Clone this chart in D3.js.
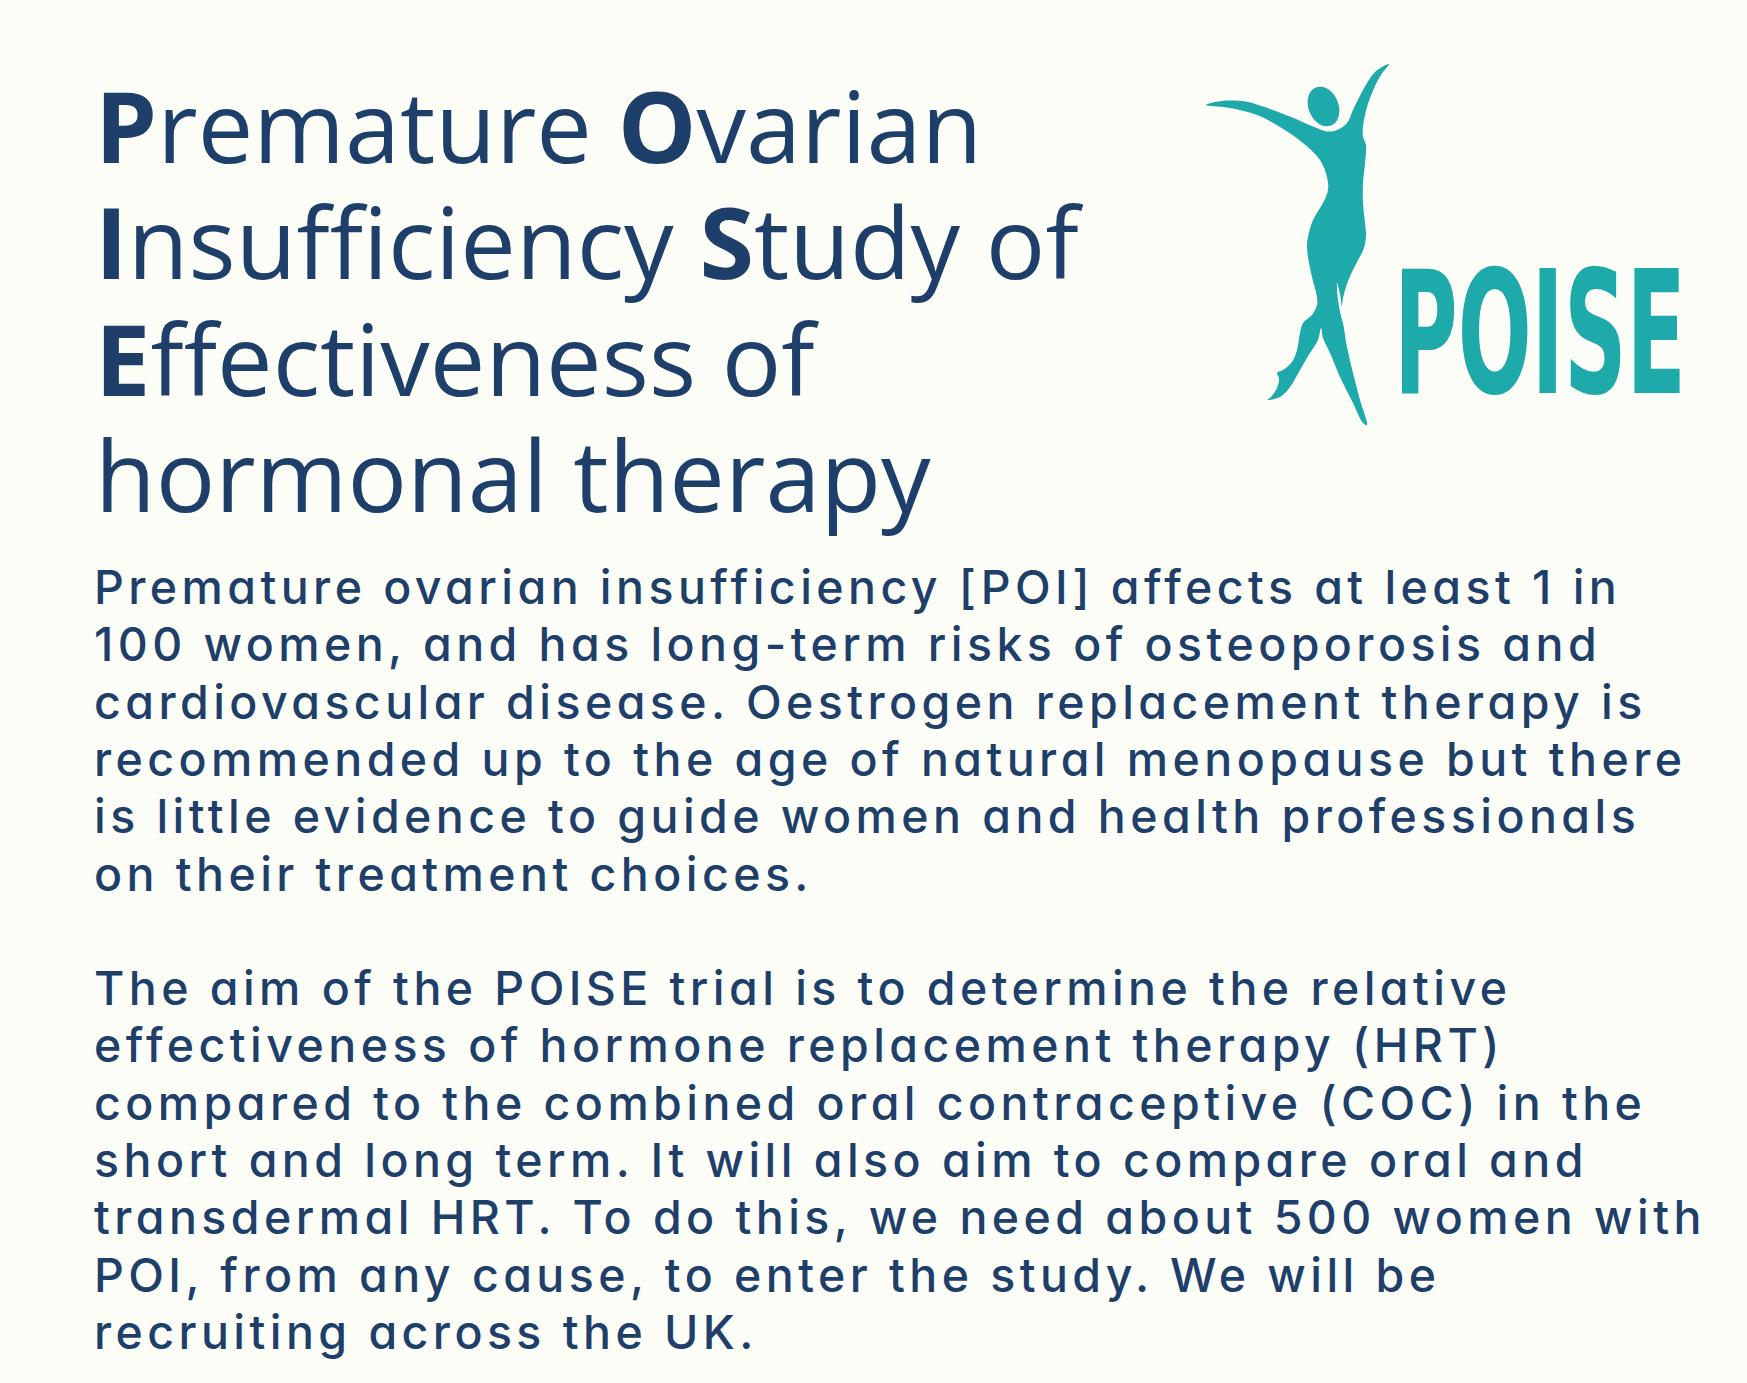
<!DOCTYPE html>
<html>
<head>
<meta charset="utf-8">
<script src="https://cdn.jsdelivr.net/npm/d3@7"></script>
<style>
  html, body { margin: 0; padding: 0; background: #fdfdf8; }
  svg { display: block; }
</style>
</head>
<body>
<script>
var W = 1747, H = 1383;

// title lines: each piece is [boldInitial, rest]
var titleLines = [
  [["P", "remature "], ["O", "varian"]],
  [["I", "nsufficiency "], ["S", "tudy of"]],
  [["E", "ffectiveness of"]],
  [["", "hormonal therapy"]]
];

var paraOne = [
  "Premature ovarian insufficiency [POI] affects at least 1 in",
  "100 women, and has long-term risks of osteoporosis and",
  "cardiovascular disease. Oestrogen replacement therapy is",
  "recommended up to the age of natural menopause but there",
  "is little evidence to guide women and health professionals",
  "on their treatment choices."
];

var paraTwo = [
  "The aim of the POISE trial is to determine the relative",
  "effectiveness of hormone replacement therapy (HRT)",
  "compared to the combined oral contraceptive (COC) in the",
  "short and long term. It will also aim to compare oral and",
  "transdermal HRT. To do this, we need about 500 women with",
  "POI, from any cause, to enter the study. We will be",
  "recruiting across the UK."
];

var logoWord = "POISE";

// dancer outline, in logo units (0..200 wide, 0..380 tall)
var dancer = [
  [6,45],[15,42],[30,40.5],[48,42],[63,46.5],[90,56.5],[113,66.5],[127,71.5],
  [137,70],[147,63],[153,50],[167,23],[175,12],[182,7],[189,4],
  [183,12],[177,22],[167,47],[163,67],[163,77],[166,85],[165,103],[163,123],
  [163,143],[165,163],[166,175],[164,188],[157,202],[148,221],[143,238],
  [142,246],[140,234],[137,223],[138,240],[142,260],
  [143,263],[147,287],[153,313],[160,340],[167,365],
  [163,363],[153,343],[140,317],[130,293],[123,278],[121,268],
  [118,280],[110,293],[100,310],[90,327],[80,337],[67,340],
  [70,338],[77,328],[79,318],[77,313],[83,310],[92,302],[97,290],[100,273],
  [103,263],[112,255],[117,245],[117,237],[112,217],[108,197],[107,185],
  [108,177],[113,160],[123,143],[128,130],[127,117],[120,100],[103,83],
  [80,67],[57,55],[30,48]
];

var navy = "#1f3f6b", teal = "#1ea9aa";

var svg = d3.select("body").append("svg")
    .attr("width", W)
    .attr("height", H);

svg.append("rect")
    .attr("width", W)
    .attr("height", H)
    .attr("fill", "#fdfdf8");

// title
var titleY = d3.scaleLinear().domain([0, 1]).range([163, 279.3]);

var title = svg.append("g")
    .attr("font-family", "'Open Sans', 'Noto Sans', sans-serif")
    .attr("font-size", 99)
    .attr("fill", navy);

title.selectAll("text")
    .data(titleLines)
    .enter()
    .append("text")
    .attr("x", 95)
    .attr("y", function(d, i) { return titleY(i); })
    .each(function(line) {
      var t = d3.select(this);
      line.forEach(function(p) {
        if (p[0]) t.append("tspan").attr("font-weight", 700).text(p[0]);
        t.append("tspan").attr("font-weight", 400).text(p[1]);
      });
    });

// body paragraphs
var bodyY = d3.scaleLinear().domain([0, 1]).range([604, 661.3]);
var bodyLines = paraOne.concat([""], paraTwo);

var body = svg.append("g")
    .attr("font-family", "Inter, Lato, sans-serif")
    .attr("font-size", 46.5)
    .attr("font-weight", 500)
    .style("font-feature-settings", "'cv11' 1")
    .attr("fill", navy);

var rows = body.selectAll("text")
    .data(bodyLines)
    .enter()
    .append("text")
    .attr("x", 94)
    .attr("y", function(d, i) { return bodyY(i); })
    .text(function(d) { return d; });

// spread letters so the widest line matches the original
var ref = rows.filter(function(d, i) { return i == 3; });
var w0 = ref.node().getComputedTextLength();
var ls = (1588 - w0) / (paraOne[3].length - 1);
body.attr("letter-spacing", ls);

// logo figure
var fx = d3.scaleLinear().domain([0, 200]).range([1200, 1400]);
var fy = d3.scaleLinear().domain([0, 380]).range([60, 440]);

var logo = svg.append("g").attr("fill", teal);

logo.append("path")
    .datum(dancer)
    .attr("d", d3.line()
        .x(function(d) { return fx(d[0]); })
        .y(function(d) { return fy(d[1]); })
        .curve(d3.curveCatmullRomClosed.alpha(0.5)));

logo.append("ellipse")
    .attr("cx", fx(123.5))
    .attr("cy", fy(46.5))
    .attr("rx", 15)
    .attr("ry", 20.5)
    .attr("transform", "rotate(-22," + fx(123.5) + "," + fy(46.5) + ")");

logo.append("text")
    .attr("x", 1394)
    .attr("y", 393)
    .attr("font-family", "'DejaVu Sans Condensed', 'Liberation Sans Narrow', 'DejaVu Sans', sans-serif")
    .attr("font-weight", 700)
    .attr("font-size", 171)
    .attr("textLength", 292)
    .attr("lengthAdjust", "spacingAndGlyphs")
    .text(logoWord);
</script>
</body>
</html>
